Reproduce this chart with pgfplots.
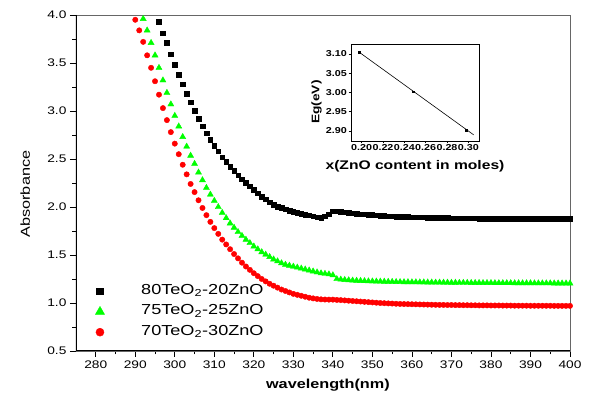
\documentclass[border=0pt]{standalone}
\usepackage{pgfplots}
\pgfplotsset{compat=1.18}
\usepackage{fontspec}
\setmainfont{Liberation Sans}[FakeStretch=1.25]
\definecolor{pgreen}{RGB}{0,255,0}
\definecolor{pred}{RGB}{255,0,0}
\begin{document}
\begin{tikzpicture}
\begin{axis}[
  name=main, at={(0pt,0pt)}, anchor=south west,
  scale only axis, width=494pt, height=336pt,
  xmin=275, xmax=400, ymin=0.5, ymax=4.0,
  xtick={280,290,...,400}, ytick={0.5,1.0,...,4.0},
  minor x tick num=1, minor y tick num=1,
  tick align=outside, major tick length=6pt, minor tick length=3.5pt,
  tick style={black, line width=0.8pt},
  xtick pos=bottom, ytick pos=left,
  axis line style={draw=gray!80!black, line width=0.7pt},
  /pgf/number format/assume math mode=true,
  yticklabel style={/pgf/number format/fixed, /pgf/number format/fixed zerofill, /pgf/number format/precision=1},
  xticklabel style={/pgf/number format/fixed, /pgf/number format/precision=0, /pgf/number format/1000 sep={}},
  tick label style={font=\fontsize{11}{13}\selectfont},
  xlabel={\textbf{wavelength(nm)}},
  ylabel={Absorbance},
  x label style={at={(axis description cs:0.51,-0.101)}, anchor=center, font=\fontsize{13}{15}\selectfont},
  y label style={at={(axis description cs:-0.103,0.467)}, anchor=center, font=\fontsize{13}{15}\selectfont},
  legend cell align=left,
  legend style={draw=none, fill=none, inner sep=0pt, outer sep=0pt,
    at={(axis description cs:0.036,0.117)}, anchor=west, row sep=6pt,
    nodes={inner sep=0pt, font=\fontsize{14.5}{16}\selectfont, text height=10.5pt, text depth=4pt, anchor=west}},
  legend image code/.code={\draw[#1, every mark/.append style={scale=1.5}] plot coordinates {(0pt,0pt)}; \path (-6pt,0pt) (41pt,0pt);},
  clip=true,
]
\addplot[only marks, mark=square*, mark size=2.3pt, mark options={draw=black, fill=black}] coordinates {
(296,3.93)(297,3.81)(298,3.71)(299,3.59)(300,3.48)(301,3.38)(302,3.28)(303,3.18)(304,3.09)(305,3.00)
(306,2.92)(307,2.84)(308,2.77)(309,2.70)(310,2.64)(311,2.58)(312,2.52)(313,2.47)(314,2.42)(315,2.375)
(316,2.33)(317,2.29)(318,2.25)(319,2.215)(320,2.18)(321,2.145)(322,2.11)(323,2.08)(324,2.05)(325,2.025)
(326,2.005)(327,1.99)(328,1.975)(329,1.96)(330,1.95)(331,1.94)(332,1.93)(333,1.92)(334,1.915)(335,1.905)
(336,1.895)(337,1.89)(338,1.905)(339,1.925)(340,1.955)(341,1.955)(342,1.95)(343,1.945)(344,1.94)(345,1.935)
(346,1.931)(347,1.927)(348,1.923)(349,1.92)(350,1.917)(351,1.914)(352,1.911)(353,1.908)(354,1.906)(355,1.904)
(356,1.902)(357,1.90)(358,1.898)(359,1.896)(360,1.895)(361,1.894)(362,1.893)(363,1.892)(364,1.891)(365,1.89)
(366,1.889)(367,1.888)(368,1.887)(369,1.886)(370,1.885)(371,1.884)(372,1.884)(373,1.883)(374,1.883)(375,1.882)
(376,1.882)(377,1.881)(378,1.881)(379,1.88)(380,1.88)(381,1.88)(382,1.879)(383,1.879)(384,1.879)(385,1.878)
(386,1.878)(387,1.878)(388,1.877)(389,1.877)(390,1.877)(391,1.877)(392,1.876)(393,1.876)(394,1.876)(395,1.876)
(396,1.875)(397,1.875)(398,1.875)(399,1.875)(400,1.875)
};
\addlegendentry{80TeO\textsubscript{2}-20ZnO}
\addplot[only marks, mark=triangle*, mark size=3.5pt, mark options={draw=pgreen, fill=pgreen}] coordinates {
(292,3.96)(293,3.84)(294,3.71)(295,3.58)(296,3.45)(297,3.32)(298,3.19)(299,3.07)(300,2.95)(301,2.84)
(302,2.73)(303,2.63)(304,2.535)(305,2.45)(306,2.36)(307,2.28)(308,2.20)(309,2.13)(310,2.065)(311,2.00)
(312,1.94)(313,1.885)(314,1.83)(315,1.785)(316,1.74)(317,1.70)(318,1.66)(319,1.625)(320,1.59)(321,1.56)
(322,1.53)(323,1.505)(324,1.48)(325,1.455)(326,1.435)(327,1.415)(328,1.40)(329,1.39)(330,1.38)(331,1.37)
(332,1.36)(333,1.35)(334,1.34)(335,1.33)(336,1.32)(337,1.31)(338,1.305)(339,1.30)(340,1.29)(341,1.25)
(342,1.245)(343,1.241)(344,1.238)(345,1.235)(346,1.233)(347,1.231)(348,1.229)(349,1.227)(350,1.226)
(351,1.225)(352,1.224)(353,1.223)(354,1.222)(355,1.221)(356,1.22)(357,1.219)(358,1.218)(359,1.218)(360,1.217)
(361,1.217)(362,1.216)(363,1.216)(364,1.215)(365,1.215)(366,1.214)(367,1.214)(368,1.213)(369,1.213)(370,1.212)
(371,1.212)(372,1.211)(373,1.211)(374,1.211)(375,1.21)(376,1.21)(377,1.21)(378,1.209)(379,1.209)(380,1.209)
(381,1.208)(382,1.208)(383,1.208)(384,1.208)(385,1.208)(386,1.207)(387,1.207)(388,1.207)(389,1.207)(390,1.207)
(391,1.206)(392,1.206)(393,1.206)(394,1.206)(395,1.206)(396,1.205)(397,1.205)(398,1.205)(399,1.205)(400,1.205)
};
\addlegendentry{75TeO\textsubscript{2}-25ZnO}
\addplot[only marks, mark=*, mark size=2.7pt, mark options={draw=pred, fill=pred}] coordinates {
(290,3.95)(291,3.84)(292,3.72)(293,3.58)(294,3.45)(295,3.31)(296,3.17)(297,3.03)(298,2.905)(299,2.78)
(300,2.66)(301,2.55)(302,2.44)(303,2.34)(304,2.24)(305,2.155)(306,2.07)(307,1.99)(308,1.915)(309,1.845)
(310,1.78)(311,1.72)(312,1.66)(313,1.61)(314,1.56)(315,1.51)(316,1.465)(317,1.42)(318,1.38)(319,1.345)
(320,1.31)(321,1.28)(322,1.25)(323,1.225)(324,1.20)(325,1.18)(326,1.16)(327,1.14)(328,1.125)(329,1.11)
(330,1.095)(331,1.085)(332,1.075)(333,1.065)(334,1.055)(335,1.048)(336,1.042)(337,1.038)(338,1.036)(339,1.035)
(340,1.035)(341,1.032)(342,1.03)(343,1.027)(344,1.024)(345,1.021)(346,1.018)(347,1.015)(348,1.012)(349,1.009)
(350,1.006)(351,1.003)(352,1.0)(353,0.998)(354,0.996)(355,0.994)(356,0.992)(357,0.99)(358,0.989)(359,0.988)
(360,0.987)(361,0.986)(362,0.985)(363,0.984)(364,0.983)(365,0.982)(366,0.981)(367,0.98)(368,0.98)(369,0.979)
(370,0.979)(371,0.978)(372,0.978)(373,0.977)(374,0.977)(375,0.976)(376,0.976)(377,0.975)(378,0.975)(379,0.975)
(380,0.974)(381,0.974)(382,0.974)(383,0.973)(384,0.973)(385,0.973)(386,0.972)(387,0.972)(388,0.972)(389,0.972)
(390,0.971)(391,0.971)(392,0.971)(393,0.971)(394,0.971)(395,0.971)(396,0.97)(397,0.97)(398,0.97)(399,0.97)(400,0.97)
};
\addlegendentry{70TeO\textsubscript{2}-30ZnO}
\draw[black, line width=1.3pt] (rel axis cs:0,1) -- (rel axis cs:0,0) -- (rel axis cs:1,0);
\end{axis}
\begin{axis}[
  at={(275pt,210pt)}, anchor=south west,
  scale only axis, width=128pt, height=97pt,
  xmin=0.19, xmax=0.31, ymin=2.874, ymax=3.126,
  xtick={0.20,0.22,0.24,0.26,0.28,0.30}, ytick={2.90,2.95,3.00,3.05,3.10},
  tick align=outside, major tick length=2.5pt,
  tick style={black, line width=0.5pt},
  xtick pos=bottom, ytick pos=left,
  axis line style={black, line width=0.8pt},
  /pgf/number format/assume math mode=true,
  tick label style={font=\bfseries\fontsize{8.6}{9}\selectfont, /pgf/number format/fixed, /pgf/number format/fixed zerofill, /pgf/number format/precision=2},
  xticklabel style={inner sep=1pt},
  yticklabel style={inner sep=1.5pt},
  xlabel={\textbf{x(ZnO content in moles)}},
  ylabel={\textbf{Eg(eV)}},
  x label style={at={(axis description cs:0.5,-0.258)}, anchor=center, font=\fontsize{12.5}{14}\selectfont},
  y label style={at={(axis description cs:-0.27,0.4)}, anchor=center, font=\fontsize{11}{13}\selectfont},
]
\addplot[black, line width=0.6pt] coordinates {(0.198,3.104)(0.25,3.0)(0.305,2.89)};
\addplot[only marks, mark=square*, mark size=0.9pt, black] coordinates {(0.198,3.104)(0.248,3.002)(0.298,2.903)};
\end{axis}
\pgfresetboundingbox
\path[use as bounding box] (-76pt,-52pt) rectangle (514pt,351pt);
\end{tikzpicture}
\end{document}
